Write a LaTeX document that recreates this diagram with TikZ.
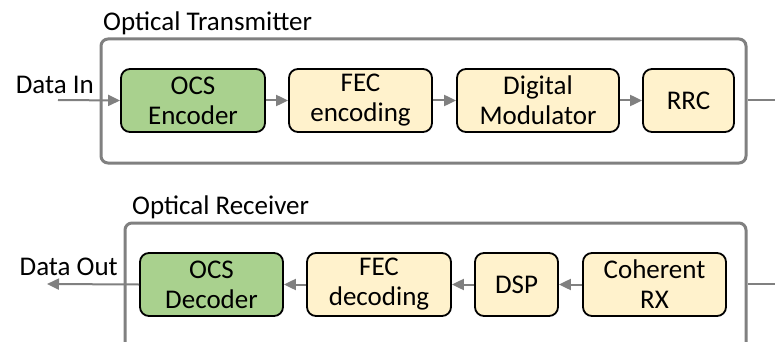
\documentclass[tikz,border=0pt]{standalone}
\usepackage{fontspec}
\setmainfont{Carlito}
\usetikzlibrary{arrows.meta}
\definecolor{boxgreen}{HTML}{A9D18E}
\definecolor{boxyellow}{HTML}{FFF2CC}
\definecolor{linegray}{HTML}{808080}
\begin{document}
\begin{tikzpicture}[x=1pt,y=-1pt,
  every node/.style={font=\fontsize{27}{30}\selectfont, inner sep=0pt},
  block/.style={draw=black, line width=1.8pt, rounded corners=9pt, minimum height=63pt, align=center},
  gblock/.style={block, fill=boxgreen},
  yblock/.style={block, fill=boxyellow},
  frame/.style={draw=linegray, line width=3pt, rounded corners=7pt},
  flow/.style={draw=linegray, line width=2pt, -{Triangle[length=12pt,width=11pt]}},
  plain/.style={draw=linegray, line width=2pt},
  title/.style={anchor=west}
]
\clip (0,0) rectangle (775,342);
\fill[white] (0,0) rectangle (775,342);

% Transmitter
\node[frame, minimum width=645pt, minimum height=124pt] (tx) at (423.5,101) {};
\node[title] (txt) at (103,23) {Optical Transmitter};
\node[gblock, minimum width=144pt] (enc) at (193,100.5) {OCS\\Encoder};
\node[yblock, minimum width=143pt] (fec) at (360.5,100.5) {FEC\\encoding};
\node[yblock, minimum width=162pt] (mod) at (538,100.5) {Digital\\Modulator};
\node[yblock, minimum width=91pt] (rrc) at (688.5,100.5) {RRC};
\node[anchor=east] (din) at (94,85) {Data In};
\coordinate (dinstart) at (58,100);
\coordinate (txend) at (775,100);
\draw[flow] (dinstart) -- (enc.west);
\draw[flow] (enc.east) -- (fec.west);
\draw[flow] (fec.east) -- (mod.west);
\draw[flow] (mod.east) -- (rrc.west);
\draw[plain] (tx.east |- txend) -- (txend);

% Receiver
\node[frame, minimum width=621pt, minimum height=160pt] (rx) at (435.5,303) {};
\node[title] (rxt) at (132,207) {Optical Receiver};
\node[gblock, minimum width=143pt] (dec) at (211.5,284.5) {OCS\\Decoder};
\node[yblock, minimum width=144pt] (fecd) at (379,284.5) {FEC\\decoding};
\node[yblock, minimum width=83pt] (dsp) at (516.5,284.5) {DSP};
\node[yblock, minimum width=143pt] (coh) at (654.5,284.5) {Coherent\\RX};
\node[anchor=east] (dout) at (118,267) {Data Out};
\coordinate (doutend) at (47,284);
\coordinate (rxstart) at (775,284);
\draw[plain] (rxstart) -- (rx.east |- rxstart);
\draw[flow] (coh.west) -- (dsp.east);
\draw[flow] (dsp.west) -- (fecd.east);
\draw[flow] (fecd.west) -- (dec.east);
\draw[flow] (dec.west) -- (doutend);
\end{tikzpicture}
\end{document}
